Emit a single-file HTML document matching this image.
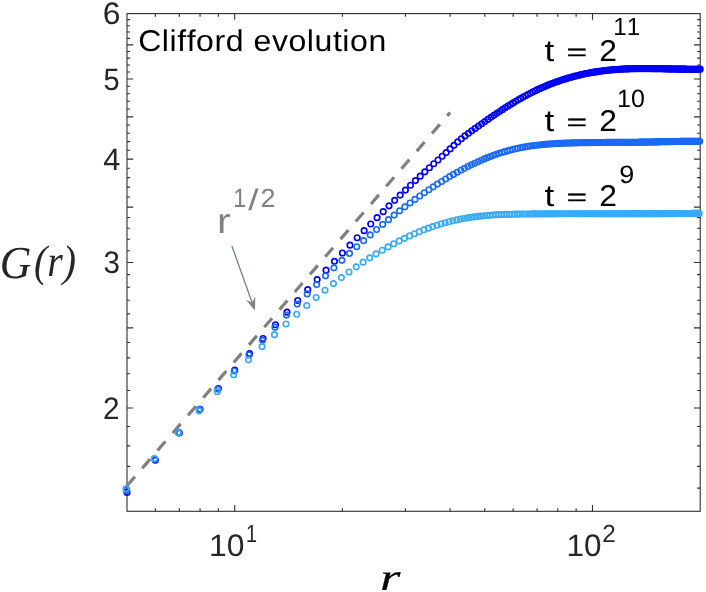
<!DOCTYPE html>
<html lang="en"><head><meta charset="utf-8"><title>Clifford evolution: G(r) vs r</title>
<style>html,body{margin:0;padding:0;background:#fff}body{width:706px;height:592px;overflow:hidden;font-family:"Liberation Sans",sans-serif}svg{display:block;will-change:transform}text{white-space:pre;font-kerning:none;text-rendering:geometricPrecision}</style></head><body>
<svg width="706" height="592" viewBox="0 0 706 592">
<rect width="706" height="592" fill="#fff"/>
<g fill="none" stroke="#2e2e2e" stroke-width="1.1">
<rect x="127" y="13.6" width="573.2" height="497.7"/>
<path d="M127 488.13h3.1M700.2 488.13h-3.1M127 466.36h3.1M700.2 466.36h-3.1M127 445.84h3.1M700.2 445.84h-3.1M127 426.43h3.1M700.2 426.43h-3.1M127 408.02h6.2M700.2 408.02h-6.2M127 390.5h3.1M700.2 390.5h-3.1M127 373.8h3.1M700.2 373.8h-3.1M127 357.84h3.1M700.2 357.84h-3.1M127 342.56h3.1M700.2 342.56h-3.1M127 327.91h6.2M700.2 327.91h-6.2M127 313.83h3.1M700.2 313.83h-3.1M127 300.28h3.1M700.2 300.28h-3.1M127 287.22h3.1M700.2 287.22h-3.1M127 274.62h3.1M700.2 274.62h-3.1M127 262.45h6.2M700.2 262.45h-6.2M127 250.68h3.1M700.2 250.68h-3.1M127 239.28h3.1M700.2 239.28h-3.1M127 228.23h3.1M700.2 228.23h-3.1M127 217.51h3.1M700.2 217.51h-3.1M127 207.11h6.2M700.2 207.11h-6.2M127 196.99h3.1M700.2 196.99h-3.1M127 187.16h3.1M700.2 187.16h-3.1M127 177.58h3.1M700.2 177.58h-3.1M127 168.26h3.1M700.2 168.26h-3.1M127 159.17h6.2M700.2 159.17h-6.2M127 150.3h3.1M700.2 150.3h-3.1M127 141.65h3.1M700.2 141.65h-3.1M127 133.2h3.1M700.2 133.2h-3.1M127 124.95h3.1M700.2 124.95h-3.1M127 116.88h6.2M700.2 116.88h-6.2M127 108.99h3.1M700.2 108.99h-3.1M127 101.27h3.1M700.2 101.27h-3.1M127 93.71h3.1M700.2 93.71h-3.1M127 86.31h3.1M700.2 86.31h-3.1M127 79.06h6.2M700.2 79.06h-6.2M127 71.95h3.1M700.2 71.95h-3.1M127 64.98h3.1M700.2 64.98h-3.1M127 58.14h3.1M700.2 58.14h-3.1M127 51.43h3.1M700.2 51.43h-3.1M127 44.84h6.2M700.2 44.84h-6.2M127 38.37h3.1M700.2 38.37h-3.1M127 32.02h3.1M700.2 32.02h-3.1M127 25.77h3.1M700.2 25.77h-3.1M127 19.63h3.1M700.2 19.63h-3.1M155.33 511.3v-3.1M155.33 13.6v3.1M179.28 511.3v-3.1M179.28 13.6v3.1M200.03 511.3v-3.1M200.03 13.6v3.1M218.33 511.3v-3.1M218.33 13.6v3.1M234.71 511.3v-6.2M234.71 13.6v6.2M342.41 511.3v-3.1M342.41 13.6v3.1M405.41 511.3v-3.1M405.41 13.6v3.1M450.12 511.3v-3.1M450.12 13.6v3.1M484.79 511.3v-3.1M484.79 13.6v3.1M513.12 511.3v-3.1M513.12 13.6v3.1M537.07 511.3v-3.1M537.07 13.6v3.1M557.82 511.3v-3.1M557.82 13.6v3.1M576.12 511.3v-3.1M576.12 13.6v3.1M592.49 511.3v-6.2M592.49 13.6v6.2"/>
</g>
<path d="M127 485.8L450.12 112.53" fill="none" stroke="#808080" stroke-width="3.2" stroke-dasharray="12 11.3"/>
<path d="M231.9 246L252.1 302.5" stroke="#727c84" stroke-width="1.25" fill="none"/>
<path d="M255 310.6L255.27 296.8L252.1 302.5L246.04 300.1Z" fill="#808080"/>
<g fill="none" stroke="#0000f8" stroke-width="1.65">
<circle cx="127" cy="492.38" r="2.75"/><circle cx="155.33" cy="460.18" r="2.75"/><circle cx="179.28" cy="432.91" r="2.75"/><circle cx="200.03" cy="409.32" r="2.75"/><circle cx="218.33" cy="388.59" r="2.75"/><circle cx="234.71" cy="370.14" r="2.75"/><circle cx="249.52" cy="353.56" r="2.75"/><circle cx="263.04" cy="338.51" r="2.75"/><circle cx="275.47" cy="324.77" r="2.75"/><circle cx="286.99" cy="312.15" r="2.75"/><circle cx="297.71" cy="300.49" r="2.75"/><circle cx="307.74" cy="289.67" r="2.75"/><circle cx="317.16" cy="279.59" r="2.75"/><circle cx="326.04" cy="270.16" r="2.75"/><circle cx="334.44" cy="261.31" r="2.75"/><circle cx="342.41" cy="252.99" r="2.75"/><circle cx="349.99" cy="245.14" r="2.75"/><circle cx="357.22" cy="237.72" r="2.75"/><circle cx="364.13" cy="230.69" r="2.75"/><circle cx="370.74" cy="224.02" r="2.75"/><circle cx="377.08" cy="217.67" r="2.75"/><circle cx="383.18" cy="211.63" r="2.75"/><circle cx="389.04" cy="205.87" r="2.75"/><circle cx="394.69" cy="200.36" r="2.75"/><circle cx="400.15" cy="195.1" r="2.75"/><circle cx="405.41" cy="190.06" r="2.75"/><circle cx="410.51" cy="185.23" r="2.75"/><circle cx="415.44" cy="180.6" r="2.75"/><circle cx="420.22" cy="176.15" r="2.75"/><circle cx="424.86" cy="171.87" r="2.75"/><circle cx="429.37" cy="167.75" r="2.75"/><circle cx="433.74" cy="163.79" r="2.75"/><circle cx="438" cy="159.97" r="2.75"/><circle cx="442.15" cy="156.27" r="2.75"/><circle cx="446.18" cy="152.61" r="2.75"/><circle cx="450.12" cy="148.93" r="2.75"/><circle cx="453.95" cy="145.31" r="2.75"/><circle cx="457.7" cy="141.88" r="2.75"/><circle cx="461.35" cy="138.74" r="2.75"/><circle cx="464.93" cy="135.92" r="2.75"/><circle cx="468.42" cy="133.33" r="2.75"/><circle cx="471.83" cy="130.85" r="2.75"/><circle cx="475.17" cy="128.44" r="2.75"/><circle cx="478.45" cy="126.09" r="2.75"/><circle cx="481.65" cy="123.81" r="2.75"/><circle cx="484.79" cy="121.6" r="2.75"/><circle cx="487.87" cy="119.44" r="2.75"/><circle cx="490.88" cy="117.35" r="2.75"/><circle cx="493.84" cy="115.33" r="2.75"/><circle cx="496.75" cy="113.37" r="2.75"/><circle cx="499.6" cy="111.47" r="2.75"/><circle cx="502.4" cy="109.63" r="2.75"/><circle cx="505.15" cy="107.85" r="2.75"/><circle cx="507.85" cy="106.13" r="2.75"/><circle cx="510.51" cy="104.48" r="2.75"/><circle cx="513.12" cy="102.88" r="2.75"/><circle cx="515.69" cy="101.34" r="2.75"/><circle cx="518.21" cy="99.85" r="2.75"/><circle cx="520.7" cy="98.42" r="2.75"/><circle cx="523.15" cy="97.05" r="2.75"/><circle cx="525.56" cy="95.73" r="2.75"/><circle cx="527.93" cy="94.46" r="2.75"/><circle cx="530.27" cy="93.24" r="2.75"/><circle cx="532.57" cy="92.08" r="2.75"/><circle cx="534.84" cy="90.97" r="2.75"/><circle cx="537.07" cy="89.9" r="2.75"/><circle cx="539.28" cy="88.87" r="2.75"/><circle cx="541.45" cy="87.89" r="2.75"/><circle cx="543.59" cy="86.95" r="2.75"/><circle cx="545.71" cy="86.05" r="2.75"/><circle cx="547.79" cy="85.19" r="2.75"/><circle cx="549.85" cy="84.37" r="2.75"/><circle cx="551.88" cy="83.58" r="2.75"/><circle cx="553.89" cy="82.82" r="2.75"/><circle cx="555.87" cy="82.09" r="2.75"/><circle cx="557.82" cy="81.4" r="2.75"/><circle cx="559.75" cy="80.73" r="2.75"/><circle cx="561.66" cy="80.09" r="2.75"/><circle cx="563.54" cy="79.48" r="2.75"/><circle cx="565.4" cy="78.9" r="2.75"/><circle cx="567.24" cy="78.34" r="2.75"/><circle cx="569.06" cy="77.8" r="2.75"/><circle cx="570.86" cy="77.29" r="2.75"/><circle cx="572.63" cy="76.8" r="2.75"/><circle cx="574.39" cy="76.33" r="2.75"/><circle cx="576.12" cy="75.88" r="2.75"/><circle cx="577.84" cy="75.45" r="2.75"/><circle cx="579.54" cy="75.05" r="2.75"/><circle cx="581.22" cy="74.66" r="2.75"/><circle cx="582.88" cy="74.28" r="2.75"/><circle cx="584.52" cy="73.93" r="2.75"/><circle cx="586.15" cy="73.59" r="2.75"/><circle cx="587.76" cy="73.27" r="2.75"/><circle cx="589.36" cy="72.96" r="2.75"/><circle cx="590.93" cy="72.67" r="2.75"/><circle cx="592.49" cy="72.39" r="2.75"/><circle cx="594.04" cy="72.13" r="2.75"/><circle cx="595.57" cy="71.88" r="2.75"/><circle cx="597.09" cy="71.64" r="2.75"/><circle cx="598.59" cy="71.42" r="2.75"/><circle cx="600.08" cy="71.2" r="2.75"/><circle cx="601.55" cy="71" r="2.75"/><circle cx="603.01" cy="70.81" r="2.75"/><circle cx="604.45" cy="70.63" r="2.75"/><circle cx="605.89" cy="70.47" r="2.75"/><circle cx="607.3" cy="70.31" r="2.75"/><circle cx="608.71" cy="70.16" r="2.75"/><circle cx="610.1" cy="70.02" r="2.75"/><circle cx="611.49" cy="69.89" r="2.75"/><circle cx="612.85" cy="69.77" r="2.75"/><circle cx="614.21" cy="69.66" r="2.75"/><circle cx="615.56" cy="69.55" r="2.75"/><circle cx="616.89" cy="69.45" r="2.75"/><circle cx="618.21" cy="69.36" r="2.75"/><circle cx="619.52" cy="69.28" r="2.75"/><circle cx="620.82" cy="69.2" r="2.75"/><circle cx="622.11" cy="69.13" r="2.75"/><circle cx="623.39" cy="69.06" r="2.75"/><circle cx="624.66" cy="69" r="2.75"/><circle cx="625.92" cy="68.94" r="2.75"/><circle cx="627.17" cy="68.89" r="2.75"/><circle cx="628.41" cy="68.85" r="2.75"/><circle cx="629.63" cy="68.8" r="2.75"/><circle cx="630.85" cy="68.77" r="2.75"/><circle cx="632.06" cy="68.73" r="2.75"/><circle cx="633.26" cy="68.71" r="2.75"/><circle cx="634.45" cy="68.68" r="2.75"/><circle cx="635.63" cy="68.66" r="2.75"/><circle cx="636.81" cy="68.64" r="2.75"/><circle cx="637.97" cy="68.62" r="2.75"/><circle cx="639.13" cy="68.61" r="2.75"/><circle cx="640.27" cy="68.6" r="2.75"/><circle cx="641.41" cy="68.59" r="2.75"/><circle cx="642.54" cy="68.59" r="2.75"/><circle cx="643.66" cy="68.59" r="2.75"/><circle cx="644.78" cy="68.59" r="2.75"/><circle cx="645.88" cy="68.59" r="2.75"/><circle cx="646.98" cy="68.59" r="2.75"/><circle cx="648.07" cy="68.6" r="2.75"/><circle cx="649.16" cy="68.6" r="2.75"/><circle cx="650.23" cy="68.61" r="2.75"/><circle cx="651.3" cy="68.62" r="2.75"/><circle cx="652.36" cy="68.63" r="2.75"/><circle cx="653.41" cy="68.64" r="2.75"/><circle cx="654.46" cy="68.66" r="2.75"/><circle cx="655.5" cy="68.67" r="2.75"/><circle cx="656.53" cy="68.69" r="2.75"/><circle cx="657.56" cy="68.7" r="2.75"/><circle cx="658.58" cy="68.72" r="2.75"/><circle cx="659.59" cy="68.73" r="2.75"/><circle cx="660.59" cy="68.75" r="2.75"/><circle cx="661.59" cy="68.77" r="2.75"/><circle cx="662.59" cy="68.79" r="2.75"/><circle cx="663.57" cy="68.81" r="2.75"/><circle cx="664.55" cy="68.83" r="2.75"/><circle cx="665.53" cy="68.85" r="2.75"/><circle cx="666.49" cy="68.86" r="2.75"/><circle cx="667.46" cy="68.88" r="2.75"/><circle cx="668.41" cy="68.9" r="2.75"/><circle cx="669.36" cy="68.92" r="2.75"/><circle cx="670.31" cy="68.94" r="2.75"/><circle cx="671.25" cy="68.96" r="2.75"/><circle cx="672.18" cy="68.98" r="2.75"/><circle cx="673.11" cy="69" r="2.75"/><circle cx="674.03" cy="69.01" r="2.75"/><circle cx="674.95" cy="69.03" r="2.75"/><circle cx="675.86" cy="69.05" r="2.75"/><circle cx="676.76" cy="69.06" r="2.75"/><circle cx="677.67" cy="69.08" r="2.75"/><circle cx="678.56" cy="69.1" r="2.75"/><circle cx="679.45" cy="69.11" r="2.75"/><circle cx="680.34" cy="69.12" r="2.75"/><circle cx="681.22" cy="69.14" r="2.75"/><circle cx="682.09" cy="69.15" r="2.75"/><circle cx="682.96" cy="69.16" r="2.75"/><circle cx="683.83" cy="69.17" r="2.75"/><circle cx="684.69" cy="69.18" r="2.75"/><circle cx="685.55" cy="69.19" r="2.75"/><circle cx="686.4" cy="69.2" r="2.75"/><circle cx="687.24" cy="69.21" r="2.75"/><circle cx="688.09" cy="69.22" r="2.75"/><circle cx="688.92" cy="69.22" r="2.75"/><circle cx="689.76" cy="69.23" r="2.75"/><circle cx="690.59" cy="69.23" r="2.75"/><circle cx="691.41" cy="69.23" r="2.75"/><circle cx="692.23" cy="69.23" r="2.75"/><circle cx="693.05" cy="69.24" r="2.75"/><circle cx="693.86" cy="69.24" r="2.75"/><circle cx="694.66" cy="69.23" r="2.75"/><circle cx="695.47" cy="69.23" r="2.75"/><circle cx="696.27" cy="69.23" r="2.75"/><circle cx="697.06" cy="69.22" r="2.75"/><circle cx="697.85" cy="69.22" r="2.75"/><circle cx="698.64" cy="69.21" r="2.75"/><circle cx="699.42" cy="69.2" r="2.75"/><circle cx="700.2" cy="69.19" r="2.75"/>
</g>
<g fill="none" stroke="#1a6af5" stroke-width="1.65">
<circle cx="126.5" cy="490.37" r="2.75"/><circle cx="154.83" cy="459.17" r="2.75"/><circle cx="178.78" cy="432.51" r="2.75"/><circle cx="199.53" cy="409.39" r="2.75"/><circle cx="217.83" cy="389.07" r="2.75"/><circle cx="234.21" cy="371.04" r="2.75"/><circle cx="249.02" cy="354.89" r="2.75"/><circle cx="262.54" cy="340.34" r="2.75"/><circle cx="274.97" cy="327.13" r="2.75"/><circle cx="286.49" cy="315.09" r="2.75"/><circle cx="297.21" cy="304.06" r="2.75"/><circle cx="307.24" cy="293.91" r="2.75"/><circle cx="316.66" cy="284.54" r="2.75"/><circle cx="325.54" cy="275.87" r="2.75"/><circle cx="333.94" cy="267.81" r="2.75"/><circle cx="341.91" cy="260.31" r="2.75"/><circle cx="349.49" cy="253.31" r="2.75"/><circle cx="356.72" cy="246.77" r="2.75"/><circle cx="363.63" cy="240.64" r="2.75"/><circle cx="370.24" cy="234.9" r="2.75"/><circle cx="376.58" cy="229.5" r="2.75"/><circle cx="382.68" cy="224.41" r="2.75"/><circle cx="388.54" cy="219.63" r="2.75"/><circle cx="394.19" cy="215.12" r="2.75"/><circle cx="399.65" cy="210.86" r="2.75"/><circle cx="404.91" cy="206.83" r="2.75"/><circle cx="410.01" cy="203.03" r="2.75"/><circle cx="414.94" cy="199.43" r="2.75"/><circle cx="419.72" cy="196.02" r="2.75"/><circle cx="424.36" cy="192.79" r="2.75"/><circle cx="428.87" cy="189.73" r="2.75"/><circle cx="433.24" cy="186.82" r="2.75"/><circle cx="437.5" cy="184.07" r="2.75"/><circle cx="441.65" cy="181.45" r="2.75"/><circle cx="445.68" cy="178.97" r="2.75"/><circle cx="449.62" cy="176.62" r="2.75"/><circle cx="453.45" cy="174.38" r="2.75"/><circle cx="457.2" cy="172.26" r="2.75"/><circle cx="460.85" cy="170.25" r="2.75"/><circle cx="464.43" cy="168.34" r="2.75"/><circle cx="467.92" cy="166.54" r="2.75"/><circle cx="471.33" cy="164.83" r="2.75"/><circle cx="474.67" cy="163.22" r="2.75"/><circle cx="477.95" cy="161.71" r="2.75"/><circle cx="481.15" cy="160.28" r="2.75"/><circle cx="484.29" cy="158.93" r="2.75"/><circle cx="487.37" cy="157.67" r="2.75"/><circle cx="490.38" cy="156.48" r="2.75"/><circle cx="493.34" cy="155.37" r="2.75"/><circle cx="496.25" cy="154.33" r="2.75"/><circle cx="499.1" cy="153.37" r="2.75"/><circle cx="501.9" cy="152.47" r="2.75"/><circle cx="504.65" cy="151.63" r="2.75"/><circle cx="507.35" cy="150.86" r="2.75"/><circle cx="510.01" cy="150.15" r="2.75"/><circle cx="512.62" cy="149.48" r="2.75"/><circle cx="515.19" cy="148.87" r="2.75"/><circle cx="517.71" cy="148.31" r="2.75"/><circle cx="520.2" cy="147.79" r="2.75"/><circle cx="522.65" cy="147.32" r="2.75"/><circle cx="525.06" cy="146.88" r="2.75"/><circle cx="527.43" cy="146.48" r="2.75"/><circle cx="529.77" cy="146.11" r="2.75"/><circle cx="532.07" cy="145.78" r="2.75"/><circle cx="534.34" cy="145.48" r="2.75"/><circle cx="536.57" cy="145.2" r="2.75"/><circle cx="538.78" cy="144.95" r="2.75"/><circle cx="540.95" cy="144.72" r="2.75"/><circle cx="543.09" cy="144.52" r="2.75"/><circle cx="545.21" cy="144.33" r="2.75"/><circle cx="547.29" cy="144.16" r="2.75"/><circle cx="549.35" cy="144" r="2.75"/><circle cx="551.38" cy="143.86" r="2.75"/><circle cx="553.39" cy="143.74" r="2.75"/><circle cx="555.37" cy="143.62" r="2.75"/><circle cx="557.32" cy="143.52" r="2.75"/><circle cx="559.25" cy="143.42" r="2.75"/><circle cx="561.16" cy="143.34" r="2.75"/><circle cx="563.04" cy="143.26" r="2.75"/><circle cx="564.9" cy="143.18" r="2.75"/><circle cx="566.74" cy="143.12" r="2.75"/><circle cx="568.56" cy="143.06" r="2.75"/><circle cx="570.36" cy="143" r="2.75"/><circle cx="572.13" cy="142.94" r="2.75"/><circle cx="573.89" cy="142.9" r="2.75"/><circle cx="575.62" cy="142.85" r="2.75"/><circle cx="577.34" cy="142.81" r="2.75"/><circle cx="579.04" cy="142.77" r="2.75"/><circle cx="580.72" cy="142.74" r="2.75"/><circle cx="582.38" cy="142.7" r="2.75"/><circle cx="584.02" cy="142.67" r="2.75"/><circle cx="585.65" cy="142.65" r="2.75"/><circle cx="587.26" cy="142.62" r="2.75"/><circle cx="588.86" cy="142.6" r="2.75"/><circle cx="590.43" cy="142.58" r="2.75"/><circle cx="591.99" cy="142.56" r="2.75"/><circle cx="593.54" cy="142.54" r="2.75"/><circle cx="595.07" cy="142.53" r="2.75"/><circle cx="596.59" cy="142.51" r="2.75"/><circle cx="598.09" cy="142.5" r="2.75"/><circle cx="599.58" cy="142.49" r="2.75"/><circle cx="601.05" cy="142.48" r="2.75"/><circle cx="602.51" cy="142.47" r="2.75"/><circle cx="603.95" cy="142.46" r="2.75"/><circle cx="605.39" cy="142.45" r="2.75"/><circle cx="606.8" cy="142.44" r="2.75"/><circle cx="608.21" cy="142.43" r="2.75"/><circle cx="609.6" cy="142.42" r="2.75"/><circle cx="610.99" cy="142.42" r="2.75"/><circle cx="612.35" cy="142.41" r="2.75"/><circle cx="613.71" cy="142.4" r="2.75"/><circle cx="615.06" cy="142.4" r="2.75"/><circle cx="616.39" cy="142.39" r="2.75"/><circle cx="617.71" cy="142.38" r="2.75"/><circle cx="619.02" cy="142.37" r="2.75"/><circle cx="620.32" cy="142.37" r="2.75"/><circle cx="621.61" cy="142.36" r="2.75"/><circle cx="622.89" cy="142.35" r="2.75"/><circle cx="624.16" cy="142.34" r="2.75"/><circle cx="625.42" cy="142.34" r="2.75"/><circle cx="626.67" cy="142.33" r="2.75"/><circle cx="627.91" cy="142.32" r="2.75"/><circle cx="629.13" cy="142.31" r="2.75"/><circle cx="630.35" cy="142.3" r="2.75"/><circle cx="631.56" cy="142.28" r="2.75"/><circle cx="632.76" cy="142.27" r="2.75"/><circle cx="633.95" cy="142.26" r="2.75"/><circle cx="635.13" cy="142.25" r="2.75"/><circle cx="636.31" cy="142.23" r="2.75"/><circle cx="637.47" cy="142.22" r="2.75"/><circle cx="638.63" cy="142.2" r="2.75"/><circle cx="639.77" cy="142.19" r="2.75"/><circle cx="640.91" cy="142.17" r="2.75"/><circle cx="642.04" cy="142.15" r="2.75"/><circle cx="643.16" cy="142.13" r="2.75"/><circle cx="644.28" cy="142.12" r="2.75"/><circle cx="645.38" cy="142.1" r="2.75"/><circle cx="646.48" cy="142.08" r="2.75"/><circle cx="647.57" cy="142.06" r="2.75"/><circle cx="648.66" cy="142.04" r="2.75"/><circle cx="649.73" cy="142.02" r="2.75"/><circle cx="650.8" cy="142" r="2.75"/><circle cx="651.86" cy="141.98" r="2.75"/><circle cx="652.91" cy="141.96" r="2.75"/><circle cx="653.96" cy="141.94" r="2.75"/><circle cx="655" cy="141.92" r="2.75"/><circle cx="656.03" cy="141.89" r="2.75"/><circle cx="657.06" cy="141.87" r="2.75"/><circle cx="658.08" cy="141.85" r="2.75"/><circle cx="659.09" cy="141.83" r="2.75"/><circle cx="660.09" cy="141.81" r="2.75"/><circle cx="661.09" cy="141.79" r="2.75"/><circle cx="662.09" cy="141.77" r="2.75"/><circle cx="663.07" cy="141.75" r="2.75"/><circle cx="664.05" cy="141.73" r="2.75"/><circle cx="665.03" cy="141.71" r="2.75"/><circle cx="665.99" cy="141.69" r="2.75"/><circle cx="666.96" cy="141.67" r="2.75"/><circle cx="667.91" cy="141.65" r="2.75"/><circle cx="668.86" cy="141.64" r="2.75"/><circle cx="669.81" cy="141.62" r="2.75"/><circle cx="670.75" cy="141.6" r="2.75"/><circle cx="671.68" cy="141.58" r="2.75"/><circle cx="672.61" cy="141.57" r="2.75"/><circle cx="673.53" cy="141.55" r="2.75"/><circle cx="674.45" cy="141.53" r="2.75"/><circle cx="675.36" cy="141.52" r="2.75"/><circle cx="676.26" cy="141.5" r="2.75"/><circle cx="677.17" cy="141.49" r="2.75"/><circle cx="678.06" cy="141.47" r="2.75"/><circle cx="678.95" cy="141.46" r="2.75"/><circle cx="679.84" cy="141.45" r="2.75"/><circle cx="680.72" cy="141.43" r="2.75"/><circle cx="681.59" cy="141.42" r="2.75"/><circle cx="682.46" cy="141.41" r="2.75"/><circle cx="683.33" cy="141.4" r="2.75"/><circle cx="684.19" cy="141.39" r="2.75"/><circle cx="685.05" cy="141.38" r="2.75"/><circle cx="685.9" cy="141.37" r="2.75"/><circle cx="686.74" cy="141.36" r="2.75"/><circle cx="687.59" cy="141.35" r="2.75"/><circle cx="688.42" cy="141.34" r="2.75"/><circle cx="689.26" cy="141.34" r="2.75"/><circle cx="690.09" cy="141.33" r="2.75"/><circle cx="690.91" cy="141.33" r="2.75"/><circle cx="691.73" cy="141.32" r="2.75"/><circle cx="692.55" cy="141.32" r="2.75"/><circle cx="693.36" cy="141.31" r="2.75"/><circle cx="694.16" cy="141.31" r="2.75"/><circle cx="694.97" cy="141.31" r="2.75"/><circle cx="695.77" cy="141.3" r="2.75"/><circle cx="696.56" cy="141.3" r="2.75"/><circle cx="697.35" cy="141.3" r="2.75"/><circle cx="698.14" cy="141.3" r="2.75"/><circle cx="698.92" cy="141.3" r="2.75"/><circle cx="699.7" cy="141.31" r="2.75"/>
</g>
<g fill="none" stroke="#38aafa" stroke-width="1.65">
<circle cx="126" cy="488.74" r="2.75"/><circle cx="154.33" cy="458.53" r="2.75"/><circle cx="178.28" cy="432.89" r="2.75"/><circle cx="199.03" cy="410.83" r="2.75"/><circle cx="217.33" cy="391.63" r="2.75"/><circle cx="233.71" cy="374.77" r="2.75"/><circle cx="248.52" cy="359.85" r="2.75"/><circle cx="262.04" cy="346.56" r="2.75"/><circle cx="274.47" cy="334.66" r="2.75"/><circle cx="285.99" cy="323.95" r="2.75"/><circle cx="296.71" cy="314.28" r="2.75"/><circle cx="306.74" cy="305.51" r="2.75"/><circle cx="316.16" cy="297.53" r="2.75"/><circle cx="325.04" cy="290.26" r="2.75"/><circle cx="333.44" cy="283.62" r="2.75"/><circle cx="341.41" cy="277.55" r="2.75"/><circle cx="348.99" cy="271.98" r="2.75"/><circle cx="356.22" cy="266.87" r="2.75"/><circle cx="363.13" cy="262.17" r="2.75"/><circle cx="369.74" cy="257.86" r="2.75"/><circle cx="376.08" cy="253.89" r="2.75"/><circle cx="382.18" cy="250.24" r="2.75"/><circle cx="388.04" cy="246.88" r="2.75"/><circle cx="393.69" cy="243.78" r="2.75"/><circle cx="399.15" cy="240.94" r="2.75"/><circle cx="404.41" cy="238.33" r="2.75"/><circle cx="409.51" cy="235.93" r="2.75"/><circle cx="414.44" cy="233.72" r="2.75"/><circle cx="419.22" cy="231.7" r="2.75"/><circle cx="423.86" cy="229.85" r="2.75"/><circle cx="428.37" cy="228.16" r="2.75"/><circle cx="432.74" cy="226.61" r="2.75"/><circle cx="437" cy="225.2" r="2.75"/><circle cx="441.15" cy="223.92" r="2.75"/><circle cx="445.18" cy="222.75" r="2.75"/><circle cx="449.12" cy="221.7" r="2.75"/><circle cx="452.95" cy="220.74" r="2.75"/><circle cx="456.7" cy="219.89" r="2.75"/><circle cx="460.35" cy="219.12" r="2.75"/><circle cx="463.93" cy="218.45" r="2.75"/><circle cx="467.42" cy="217.84" r="2.75"/><circle cx="470.83" cy="217.31" r="2.75"/><circle cx="474.17" cy="216.84" r="2.75"/><circle cx="477.45" cy="216.43" r="2.75"/><circle cx="480.65" cy="216.07" r="2.75"/><circle cx="483.79" cy="215.75" r="2.75"/><circle cx="486.87" cy="215.47" r="2.75"/><circle cx="489.88" cy="215.23" r="2.75"/><circle cx="492.84" cy="215.02" r="2.75"/><circle cx="495.75" cy="214.84" r="2.75"/><circle cx="498.6" cy="214.68" r="2.75"/><circle cx="501.4" cy="214.55" r="2.75"/><circle cx="504.15" cy="214.44" r="2.75"/><circle cx="506.85" cy="214.35" r="2.75"/><circle cx="509.51" cy="214.27" r="2.75"/><circle cx="512.12" cy="214.2" r="2.75"/><circle cx="514.69" cy="214.14" r="2.75"/><circle cx="517.21" cy="214.1" r="2.75"/><circle cx="519.7" cy="214.06" r="2.75"/><circle cx="522.15" cy="214.03" r="2.75"/><circle cx="524.56" cy="214" r="2.75"/><circle cx="526.93" cy="213.98" r="2.75"/><circle cx="529.27" cy="213.96" r="2.75"/><circle cx="531.57" cy="213.94" r="2.75"/><circle cx="533.84" cy="213.92" r="2.75"/><circle cx="536.07" cy="213.91" r="2.75"/><circle cx="538.28" cy="213.89" r="2.75"/><circle cx="540.45" cy="213.88" r="2.75"/><circle cx="542.59" cy="213.87" r="2.75"/><circle cx="544.71" cy="213.86" r="2.75"/><circle cx="546.79" cy="213.84" r="2.75"/><circle cx="548.85" cy="213.83" r="2.75"/><circle cx="550.88" cy="213.83" r="2.75"/><circle cx="552.89" cy="213.82" r="2.75"/><circle cx="554.87" cy="213.81" r="2.75"/><circle cx="556.82" cy="213.8" r="2.75"/><circle cx="558.75" cy="213.79" r="2.75"/><circle cx="560.66" cy="213.79" r="2.75"/><circle cx="562.54" cy="213.78" r="2.75"/><circle cx="564.4" cy="213.77" r="2.75"/><circle cx="566.24" cy="213.77" r="2.75"/><circle cx="568.06" cy="213.76" r="2.75"/><circle cx="569.86" cy="213.76" r="2.75"/><circle cx="571.63" cy="213.76" r="2.75"/><circle cx="573.39" cy="213.75" r="2.75"/><circle cx="575.12" cy="213.75" r="2.75"/><circle cx="576.84" cy="213.74" r="2.75"/><circle cx="578.54" cy="213.74" r="2.75"/><circle cx="580.22" cy="213.74" r="2.75"/><circle cx="581.88" cy="213.74" r="2.75"/><circle cx="583.52" cy="213.73" r="2.75"/><circle cx="585.15" cy="213.73" r="2.75"/><circle cx="586.76" cy="213.73" r="2.75"/><circle cx="588.36" cy="213.73" r="2.75"/><circle cx="589.93" cy="213.73" r="2.75"/><circle cx="591.49" cy="213.72" r="2.75"/><circle cx="593.04" cy="213.72" r="2.75"/><circle cx="594.57" cy="213.72" r="2.75"/><circle cx="596.09" cy="213.72" r="2.75"/><circle cx="597.59" cy="213.72" r="2.75"/><circle cx="599.08" cy="213.72" r="2.75"/><circle cx="600.55" cy="213.72" r="2.75"/><circle cx="602.01" cy="213.72" r="2.75"/><circle cx="603.45" cy="213.71" r="2.75"/><circle cx="604.89" cy="213.71" r="2.75"/><circle cx="606.3" cy="213.71" r="2.75"/><circle cx="607.71" cy="213.71" r="2.75"/><circle cx="609.1" cy="213.71" r="2.75"/><circle cx="610.49" cy="213.71" r="2.75"/><circle cx="611.85" cy="213.71" r="2.75"/><circle cx="613.21" cy="213.71" r="2.75"/><circle cx="614.56" cy="213.71" r="2.75"/><circle cx="615.89" cy="213.71" r="2.75"/><circle cx="617.21" cy="213.71" r="2.75"/><circle cx="618.52" cy="213.7" r="2.75"/><circle cx="619.82" cy="213.7" r="2.75"/><circle cx="621.11" cy="213.7" r="2.75"/><circle cx="622.39" cy="213.7" r="2.75"/><circle cx="623.66" cy="213.7" r="2.75"/><circle cx="624.92" cy="213.7" r="2.75"/><circle cx="626.17" cy="213.7" r="2.75"/><circle cx="627.41" cy="213.7" r="2.75"/><circle cx="628.63" cy="213.7" r="2.75"/><circle cx="629.85" cy="213.69" r="2.75"/><circle cx="631.06" cy="213.69" r="2.75"/><circle cx="632.26" cy="213.69" r="2.75"/><circle cx="633.45" cy="213.69" r="2.75"/><circle cx="634.63" cy="213.69" r="2.75"/><circle cx="635.81" cy="213.69" r="2.75"/><circle cx="636.97" cy="213.68" r="2.75"/><circle cx="638.13" cy="213.68" r="2.75"/><circle cx="639.27" cy="213.68" r="2.75"/><circle cx="640.41" cy="213.68" r="2.75"/><circle cx="641.54" cy="213.68" r="2.75"/><circle cx="642.66" cy="213.67" r="2.75"/><circle cx="643.78" cy="213.67" r="2.75"/><circle cx="644.88" cy="213.67" r="2.75"/><circle cx="645.98" cy="213.67" r="2.75"/><circle cx="647.07" cy="213.67" r="2.75"/><circle cx="648.16" cy="213.66" r="2.75"/><circle cx="649.23" cy="213.66" r="2.75"/><circle cx="650.3" cy="213.66" r="2.75"/><circle cx="651.36" cy="213.65" r="2.75"/><circle cx="652.41" cy="213.65" r="2.75"/><circle cx="653.46" cy="213.65" r="2.75"/><circle cx="654.5" cy="213.65" r="2.75"/><circle cx="655.53" cy="213.64" r="2.75"/><circle cx="656.56" cy="213.64" r="2.75"/><circle cx="657.58" cy="213.64" r="2.75"/><circle cx="658.59" cy="213.63" r="2.75"/><circle cx="659.59" cy="213.63" r="2.75"/><circle cx="660.59" cy="213.63" r="2.75"/><circle cx="661.59" cy="213.62" r="2.75"/><circle cx="662.57" cy="213.62" r="2.75"/><circle cx="663.55" cy="213.61" r="2.75"/><circle cx="664.53" cy="213.61" r="2.75"/><circle cx="665.49" cy="213.61" r="2.75"/><circle cx="666.46" cy="213.6" r="2.75"/><circle cx="667.41" cy="213.6" r="2.75"/><circle cx="668.36" cy="213.59" r="2.75"/><circle cx="669.31" cy="213.59" r="2.75"/><circle cx="670.25" cy="213.58" r="2.75"/><circle cx="671.18" cy="213.58" r="2.75"/><circle cx="672.11" cy="213.57" r="2.75"/><circle cx="673.03" cy="213.57" r="2.75"/><circle cx="673.95" cy="213.56" r="2.75"/><circle cx="674.86" cy="213.56" r="2.75"/><circle cx="675.76" cy="213.55" r="2.75"/><circle cx="676.67" cy="213.55" r="2.75"/><circle cx="677.56" cy="213.54" r="2.75"/><circle cx="678.45" cy="213.54" r="2.75"/><circle cx="679.34" cy="213.53" r="2.75"/><circle cx="680.22" cy="213.53" r="2.75"/><circle cx="681.09" cy="213.52" r="2.75"/><circle cx="681.96" cy="213.52" r="2.75"/><circle cx="682.83" cy="213.51" r="2.75"/><circle cx="683.69" cy="213.5" r="2.75"/><circle cx="684.55" cy="213.5" r="2.75"/><circle cx="685.4" cy="213.49" r="2.75"/><circle cx="686.24" cy="213.49" r="2.75"/><circle cx="687.09" cy="213.48" r="2.75"/><circle cx="687.92" cy="213.47" r="2.75"/><circle cx="688.76" cy="213.47" r="2.75"/><circle cx="689.59" cy="213.46" r="2.75"/><circle cx="690.41" cy="213.45" r="2.75"/><circle cx="691.23" cy="213.45" r="2.75"/><circle cx="692.05" cy="213.44" r="2.75"/><circle cx="692.86" cy="213.43" r="2.75"/><circle cx="693.66" cy="213.42" r="2.75"/><circle cx="694.47" cy="213.42" r="2.75"/><circle cx="695.27" cy="213.41" r="2.75"/><circle cx="696.06" cy="213.4" r="2.75"/><circle cx="696.85" cy="213.4" r="2.75"/><circle cx="697.64" cy="213.39" r="2.75"/><circle cx="698.42" cy="213.38" r="2.75"/><circle cx="699.2" cy="213.37" r="2.75"/>
</g>
<text transform="translate(103.07,418.67) scale(0.9559,1)" font-size="31.04" font-family="Liberation Sans, sans-serif" fill="#262626">2</text>
<text transform="translate(103.52,273.1) scale(0.9524,1)" font-size="31.04" font-family="Liberation Sans, sans-serif" fill="#262626">3</text>
<text transform="translate(103.14,169.82) scale(0.9949,1)" font-size="30.94" font-family="Liberation Sans, sans-serif" fill="#262626">4</text>
<text transform="translate(103.51,89.71) scale(0.9389,1)" font-size="30.94" font-family="Liberation Sans, sans-serif" fill="#262626">5</text>
<text transform="translate(102.84,24.25) scale(1.0264,1)" font-size="31.04" font-family="Liberation Sans, sans-serif" fill="#262626">6</text>
<text transform="translate(208.97,556.2) scale(1.0277,1)" font-size="31.04" font-family="Liberation Sans, sans-serif" fill="#262626">10</text>
<text transform="translate(245.88,541.7) scale(0.8049,1)" font-size="24.78" font-family="Liberation Sans, sans-serif" fill="#262626">1</text>
<text transform="translate(566.6,556.2) scale(1.0147,1)" font-size="31.04" font-family="Liberation Sans, sans-serif" fill="#262626">10</text>
<text transform="translate(602.37,541.8) scale(0.9806,1)" font-size="24.85" font-family="Liberation Sans, sans-serif" fill="#262626">2</text>
<text transform="translate(138.17,51.3) scale(1.0700,1)" font-size="29.95" font-family="Liberation Sans, sans-serif" fill="#000" letter-spacing="0.52">Clifford evolution</text>
<g><text transform="translate(544.48,60.7) scale(1.1600,1)" font-size="30.32" font-family="Liberation Sans, sans-serif" fill="#000">t</text><text transform="translate(566.58,59.51) scale(1.0999,0.7273)" font-size="32" font-family="Liberation Sans, sans-serif" fill="#000" stroke="#000" stroke-width="0.45">=</text><text transform="translate(599.3,60.7) scale(1.0633,1)" font-size="29.93" font-family="Liberation Sans, sans-serif" fill="#000">2</text></g>
<text transform="translate(613.26,35) scale(0.9739,1)" font-size="24.86" font-family="Liberation Sans, sans-serif" fill="#000">11</text>
<g><text transform="translate(544.48,131.2) scale(1.1600,1)" font-size="30.32" font-family="Liberation Sans, sans-serif" fill="#000">t</text><text transform="translate(566.58,130.01) scale(1.0999,0.7273)" font-size="32" font-family="Liberation Sans, sans-serif" fill="#000" stroke="#000" stroke-width="0.45">=</text><text transform="translate(599.3,131.2) scale(1.0633,1)" font-size="29.93" font-family="Liberation Sans, sans-serif" fill="#000">2</text></g>
<text transform="translate(617.1,106.75) scale(0.9964,1)" font-size="25.06" font-family="Liberation Sans, sans-serif" fill="#000">10</text>
<g><text transform="translate(544.48,206.2) scale(1.1600,1)" font-size="30.32" font-family="Liberation Sans, sans-serif" fill="#000">t</text><text transform="translate(566.58,205.01) scale(1.0999,0.7273)" font-size="32" font-family="Liberation Sans, sans-serif" fill="#000" stroke="#000" stroke-width="0.45">=</text><text transform="translate(599.3,206.2) scale(1.0633,1)" font-size="29.93" font-family="Liberation Sans, sans-serif" fill="#000">2</text></g>
<text transform="translate(619.23,182.65) scale(1.0797,1)" font-size="25.06" font-family="Liberation Sans, sans-serif" fill="#000">9</text>
<text transform="translate(216.96,233.2) scale(1.1700,1)" font-size="35.31" font-family="Liberation Sans, sans-serif" fill="#808080">r</text>
<g><text transform="translate(233.22,207.2) scale(0.8855,1)" font-size="26.45" font-family="Liberation Sans, sans-serif" fill="#808080">1</text><text transform="translate(248.2,210.31) scale(1.1585,0.9277)" font-size="32" font-family="Liberation Sans, sans-serif" fill="#808080">/</text><text transform="translate(260.44,207.2) scale(1.0302,1)" font-size="26.21" font-family="Liberation Sans, sans-serif" fill="#808080">2</text></g>
<g><text transform="translate(-0.32,277.6) scale(0.9580,1)" font-size="45.76" font-family="Liberation Serif, serif" font-style="italic" fill="#262626">G</text><text transform="translate(33.9,275.66) scale(1.2478,1.3855)" font-size="32" font-family="Liberation Serif, serif" font-style="italic" fill="#262626">(r)</text></g>
<text transform="translate(379.88,590) scale(1.3855,1)" font-size="37.78" font-family="Liberation Serif, serif" font-style="italic" fill="#000" stroke="#000" stroke-width="0.2">r</text>
</svg></body></html>
